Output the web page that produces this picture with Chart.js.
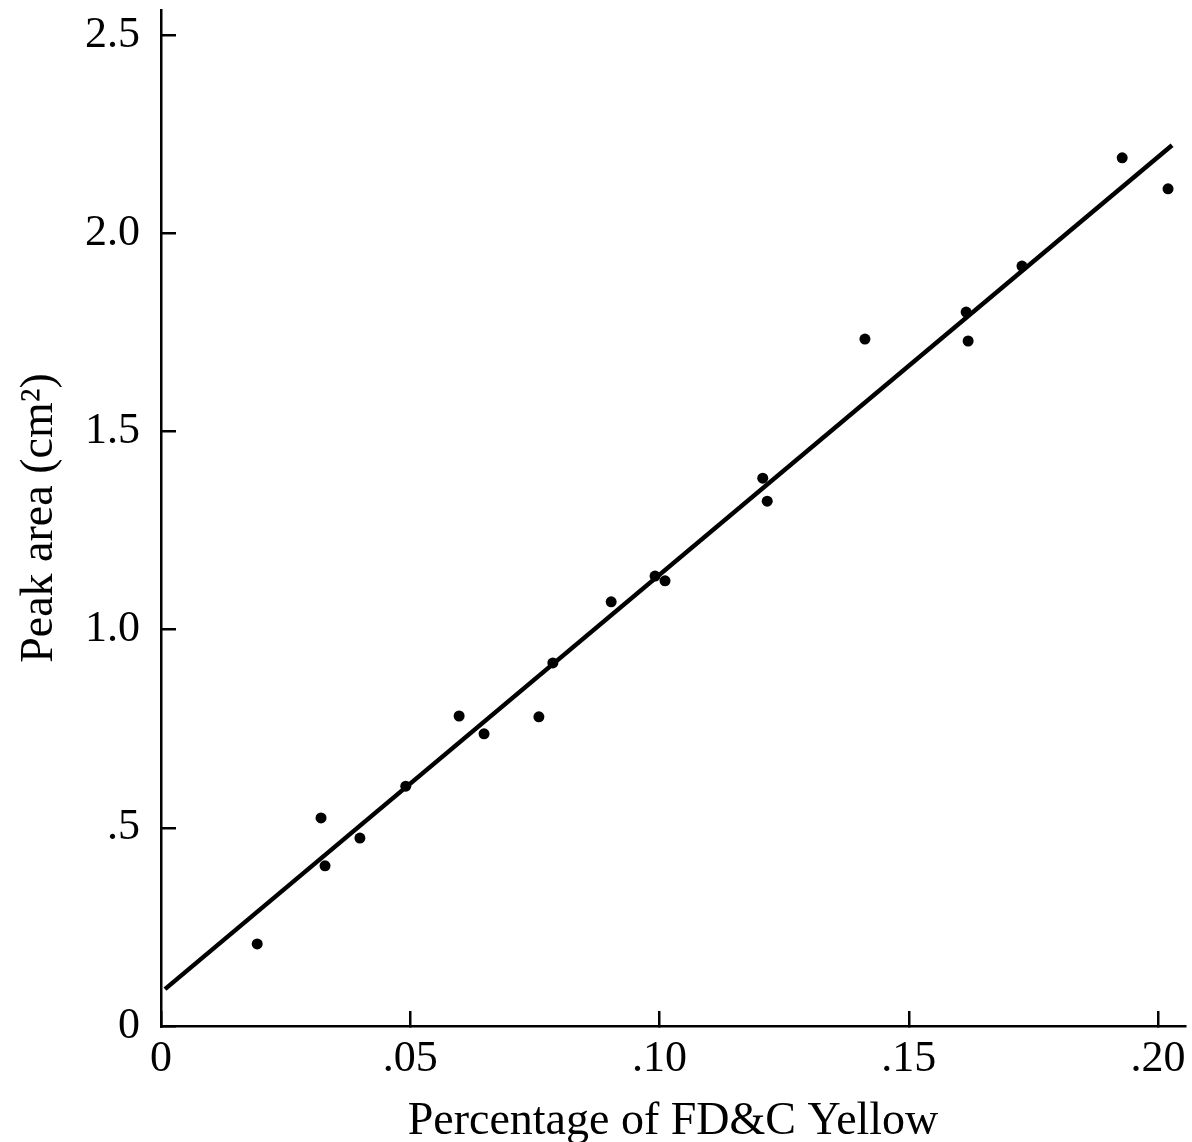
<!DOCTYPE html>
<html>
<head>
<meta charset="utf-8">
<script src="https://cdn.jsdelivr.net/npm/chart.js@4/dist/chart.umd.min.js"></script>
<style>
  html, body { margin: 0; padding: 0; background: #fff; }
  #wrap { width: 1192px; height: 1142px; }
</style>
</head>
<body>
<div id="wrap"><canvas id="myChart" width="1192" height="1142"></canvas></div>
<script>
var pctYellow, peakArea, fitX, fitY, xTickValues, xTickLabels, yTickValues, yTickLabels;
var ctx, myChart, points, fitLine;

// measured points
pctYellow = [0.0193, 0.0321, 0.0329, 0.0399, 0.0491, 0.0598, 0.0648, 0.0758, 0.0786, 0.0903,
             0.0991, 0.1011, 0.1207, 0.1216, 0.1412, 0.1615, 0.1619, 0.1727, 0.1928, 0.2020];
peakArea  = [0.207, 0.525, 0.404, 0.474, 0.605, 0.782, 0.737, 0.780, 0.916, 1.070,
             1.135, 1.123, 1.382, 1.324, 1.733, 1.801, 1.728, 1.917, 2.190, 2.112];

// fitted line end points
fitX = [0.0008, 0.2028];
fitY = [0.093, 2.222];

xTickValues = [0, 0.05, 0.10, 0.15, 0.20];
xTickLabels = ['0', '.05', '.10', '.15', '.20'];
yTickValues = [0, 0.5, 1.0, 1.5, 2.0, 2.5];
yTickLabels = ['0', '.5', '1.0', '1.5', '2.0', '2.5'];

points = pctYellow.map(function(x, i) { return {x: x, y: peakArea[i]}; });
fitLine = fitX.map(function(x, i) { return {x: x, y: fitY[i]}; });

Chart.defaults.font.family = '"Liberation Serif", "Times New Roman", serif';
Chart.defaults.color = '#000';

ctx = document.getElementById('myChart').getContext('2d');

myChart = new Chart(ctx, {
  type: 'scatter',
  data: {
    datasets: [
      {
        label: 'Peak area',
        data: points,
        pointRadius: 5.5,
        pointBackgroundColor: '#000',
        pointBorderWidth: 0,
        showLine: false
      }, {
        label: 'Fit',
        data: fitLine,
        showLine: true,
        borderColor: '#000',
        borderWidth: 4.5,
        pointRadius: 0
      }
    ]
  },
  options: {
    responsive: false,
    animation: false,
    layout: { padding: { top: 10, right: 7, left: 0, bottom: 0 } },
    plugins: {
      legend: { display: false },
      tooltip: { enabled: false }
    },
    scales: {
      x: {
        type: 'linear',
        min: 0,
        max: 0.2054,
        border: { display: true, color: '#000', width: 2.5 },
        grid: { drawOnChartArea: false, tickLength: -15, color: '#000', lineWidth: 2.5 },
        ticks: {
          padding: 22,
          font: { size: 44 },
          callback: function(v, i) { return xTickLabels[i]; }
        },
        afterBuildTicks: function(scale) {
          scale.ticks = xTickValues.map(function(v) { return {value: v}; });
        },
        afterFit: function(scale) {
          scale.height = 116;
          scale.paddingLeft = 0;
          scale.paddingRight = 0;
        },
        title: {
          display: true,
          text: 'Percentage of FD&C Yellow',
          font: { size: 46, lineHeight: 1 },
          padding: { top: 0, bottom: -3 }
        }
      },
      y: {
        type: 'linear',
        min: 0,
        max: 2.563,
        border: { display: true, color: '#000', width: 2.5 },
        grid: { drawOnChartArea: false, tickLength: -15, color: '#000', lineWidth: 2.5 },
        ticks: {
          padding: 36,
          font: { size: 44 },
          callback: function(v, i) { return yTickLabels[i]; }
        },
        afterBuildTicks: function(scale) {
          scale.ticks = yTickValues.map(function(v) { return {value: v}; });
        },
        afterFit: function(scale) {
          scale.width = 161;
          scale.paddingTop = 0;
          scale.paddingBottom = 0;
        },
        title: {
          display: true,
          text: 'Peak area (cm²)',
          font: { size: 46, lineHeight: 1 },
          padding: { top: 17, bottom: 0 }
        }
      }
    }
  }
});
</script>
</body>
</html>
